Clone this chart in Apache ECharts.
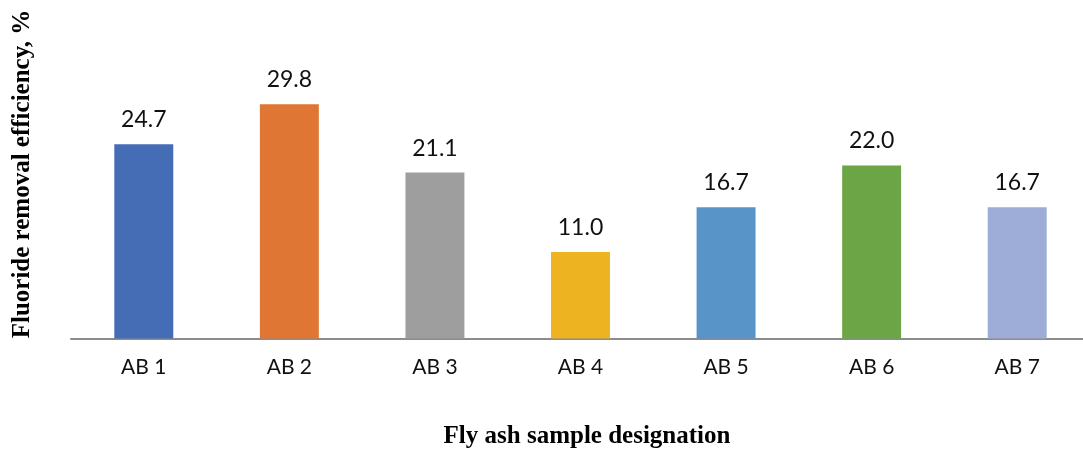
<!DOCTYPE html>
<html>
<head>
<meta charset="utf-8">
<style>
  html, body { margin: 0; padding: 0; background: #ffffff; }
  #chart { width: 1083px; height: 450px; }
</style>
<script src="https://cdn.jsdelivr.net/npm/echarts@6/dist/echarts.min.js"></script>
</head>
<body>
<div id="chart"></div>
<script>
// Fly ash samples and their fluoride removal efficiency (%)
const categories = ['AB 1', 'AB 2', 'AB 3', 'AB 4', 'AB 5', 'AB 6', 'AB 7'];
const efficiency = [24.7, 29.8, 21.1, 11.0, 16.7, 22.0, 16.7];
const barColors = ['#446DB5', '#DF7633', '#9E9E9E', '#EDB320', '#5894C8', '#6BA545', '#9DADD7'];

const yAxisTitle = 'Fluoride removal efficiency, %';
const xAxisTitle = 'Fly ash sample designation';

const chart = echarts.init(document.getElementById('chart'), null, { renderer: 'canvas' });

chart.setOption({
  backgroundColor: '#ffffff',
  animation: false,
  grid: {
    left: 71, width: 1019, top: 24, bottom: 111.5,
    containLabel: false,
    outerBoundsMode: 'none'
  },
  xAxis: {
    type: 'category',
    data: categories,
    axisLine: { lineStyle: { color: '#8C8C8C', width: 2 } },
    axisTick: { show: false },
    axisLabel: {
      margin: 18,
      color: '#111111',
      fontFamily: 'Lato',
      fontSize: 21
    }
  },
  yAxis: {
    type: 'value',
    min: 0,
    max: 40,
    show: false,
    splitLine: { show: false }
  },
  graphic: [
    {
      type: 'text',
      x: 23,
      y: 174,
      rotation: Math.PI / 2,
      style: {
        text: yAxisTitle,
        fontFamily: 'Liberation Serif',
        fontWeight: 'bold',
        fontSize: 25,
        fill: '#000000',
        textAlign: 'center',
        textVerticalAlign: 'middle'
      }
    },
    {
      type: 'text',
      x: 587,
      y: 437,
      style: {
        text: xAxisTitle,
        fontFamily: 'Liberation Serif',
        fontWeight: 'bold',
        fontSize: 25,
        fill: '#000000',
        textAlign: 'center',
        textVerticalAlign: 'middle'
      }
    }
  ],
  series: [
    {
      type: 'bar',
      data: efficiency.map((v, i) => ({ value: v, itemStyle: { color: barColors[i] } })),
      barWidth: '40.5%',
      label: {
        show: true,
        position: 'top',
        distance: 13,
        color: '#111111',
        fontFamily: 'Lato',
        fontSize: 23,
        formatter: p => p.value.toFixed(1)
      }
    }
  ]
});
</script>
</body>
</html>
